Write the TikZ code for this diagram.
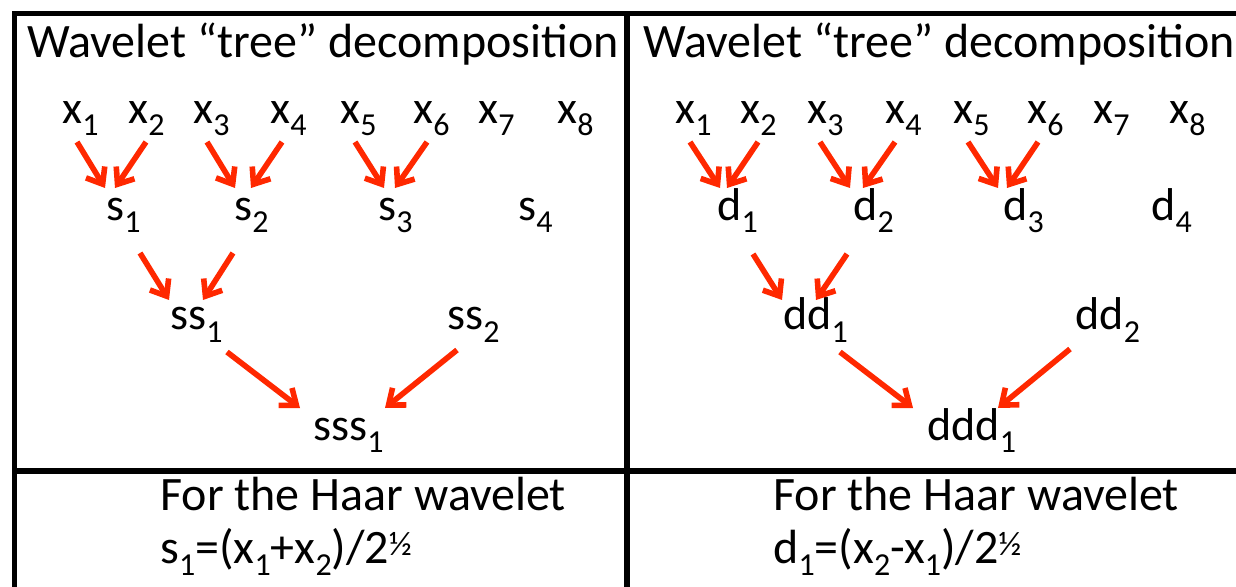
\documentclass[tikz,border=0pt]{standalone}
\usepackage{fontspec}
\setmainfont{Carlito}
\usetikzlibrary{arrows.meta,calc}
\definecolor{arrred}{RGB}{255,40,0}
\newcommand\mysub[1]{\raisebox{-6pt}{\fontsize{16}{16}\selectfont #1}}
\newcommand\myhalf{\raisebox{4pt}{\fontsize{17}{17}\selectfont ½}}
\begin{document}
\begin{tikzpicture}[x=0.5pt,y=-0.5pt,
  lbl/.style={inner sep=0pt,anchor=base west,font=\fontsize{23}{23}\selectfont},
  ttl/.style={inner sep=0pt,anchor=base west,font=\fontsize{24}{24}\selectfont},
  arr/.style={draw=arrred,line width=2.8pt,-{Straight Barb[length=7pt,width=11pt]}},
  frame/.style={line width=2.6pt,black}]
\useasboundingbox (0,0) rectangle (1236,587);
% frame
\draw[frame] (1250,13.5) -- (14.5,13.5) -- (14.5,600);
\draw[frame] (627,13.5) -- (627,600);
\draw[frame] (14.5,471) -- (1250,471);
% titles
\node[ttl] (tl) at (27,58) {Wavelet “tree” decomposition};
\node[ttl] (tr) at (643,58) {Wavelet “tree” decomposition};
% left panel
\node[lbl] (lx1) at (62,124) {x\mysub{1}};
\node[lbl] (lx2) at (128,124) {x\mysub{2}};
\node[lbl] (lx3) at (193,124) {x\mysub{3}};
\node[lbl] (lx4) at (270,124) {x\mysub{4}};
\node[lbl] (lx5) at (340,124) {x\mysub{5}};
\node[lbl] (lx6) at (413,124) {x\mysub{6}};
\node[lbl] (lx7) at (478,124) {x\mysub{7}};
\node[lbl] (lx8) at (557,124) {x\mysub{8}};
\node[lbl] (s1) at (106,221) {s\mysub{1}};
\node[lbl] (s2) at (234,221) {s\mysub{2}};
\node[lbl] (s3) at (378,221) {s\mysub{3}};
\node[lbl] (s4) at (518,221) {s\mysub{4}};
\node[lbl] (ss1) at (170,330) {ss\mysub{1}};
\node[lbl] (ss2) at (447,330) {ss\mysub{2}};
\node[lbl] (sss1) at (313,440) {sss\mysub{1}};
\draw[arr] ($(lx1.base west)+(15,18)$) -- ($(s1.base west)+(-1,-33)$);
\draw[arr] ($(lx2.base west)+(18,18)$) -- ($(s1.base west)+(9,-33)$);
\draw[arr] ($(lx3.base west)+(14,18)$) -- ($(s2.base west)+(1,-33)$);
\draw[arr] ($(lx4.base west)+(12,18)$) -- ($(s2.base west)+(17,-33)$);
\draw[arr] ($(lx5.base west)+(15,18)$) -- ($(s3.base west)+(6,-33)$);
\draw[arr] ($(lx6.base west)+(14,18)$) -- ($(s3.base west)+(17,-33)$);
\draw[arr] ($(s1.base west)+(34,32)$) -- ($(ss1.base west)+(-1,-30)$);
\draw[arr] ($(s2.base west)+(-1,32)$) -- ($(ss1.base west)+(33,-30)$);
\draw[arr] ($(ss1.base west)+(57,22)$) -- ($(sss1.base west)+(-13,-32)$);
\draw[arr] ($(ss2.base west)+(10,20)$) -- ($(sss1.base west)+(72,-32)$);
% right panel
\node[lbl] (rx1) at (675,124) {x\mysub{1}};
\node[lbl] (rx2) at (740,124) {x\mysub{2}};
\node[lbl] (rx3) at (807,124) {x\mysub{3}};
\node[lbl] (rx4) at (885,124) {x\mysub{4}};
\node[lbl] (rx5) at (953,124) {x\mysub{5}};
\node[lbl] (rx6) at (1027,124) {x\mysub{6}};
\node[lbl] (rx7) at (1093,124) {x\mysub{7}};
\node[lbl] (rx8) at (1169,124) {x\mysub{8}};
\node[lbl] (d1) at (717,221) {d\mysub{1}};
\node[lbl] (d2) at (853,221) {d\mysub{2}};
\node[lbl] (d3) at (1003,221) {d\mysub{3}};
\node[lbl] (d4) at (1151,221) {d\mysub{4}};
\node[lbl] (dd1) at (783,330) {dd\mysub{1}};
\node[lbl] (dd2) at (1075,330) {dd\mysub{2}};
\node[lbl] (ddd1) at (927,440) {ddd\mysub{1}};
\draw[arr] ($(rx1.base west)+(15,18)$) -- ($(d1.base west)+(3,-33)$);
\draw[arr] ($(rx2.base west)+(18,18)$) -- ($(d1.base west)+(10,-33)$);
\draw[arr] ($(rx3.base west)+(13,18)$) -- ($(d2.base west)+(-3,-33)$);
\draw[arr] ($(rx4.base west)+(10,18)$) -- ($(d2.base west)+(10,-33)$);
\draw[arr] ($(rx5.base west)+(15,18)$) -- ($(d3.base west)+(-5,-33)$);
\draw[arr] ($(rx6.base west)+(11,18)$) -- ($(d3.base west)+(4,-33)$);
\draw[arr] ($(d1.base west)+(36,33)$) -- ($(dd1.base west)+(-1,-30)$);
\draw[arr] ($(d2.base west)+(-6,33)$) -- ($(dd1.base west)+(33,-30)$);
\draw[arr] ($(dd1.base west)+(57,22)$) -- ($(ddd1.base west)+(-14,-32)$);
\draw[arr] ($(dd2.base west)+(-5,19)$) -- ($(ddd1.base west)+(71,-32)$);
% bottom
\node[ttl] (hl) at (160,510) {For the Haar wavelet};
\node[ttl] (fl) at (160,563) {s\mysub{1}=(x\mysub{1}+x\mysub{2})/2\myhalf};
\node[ttl] (hr) at (773,510) {For the Haar wavelet};
\node[ttl] (fr) at (773,563) {d\mysub{1}=(x\mysub{2}-x\mysub{1})/2\myhalf};
\end{tikzpicture}
\end{document}
